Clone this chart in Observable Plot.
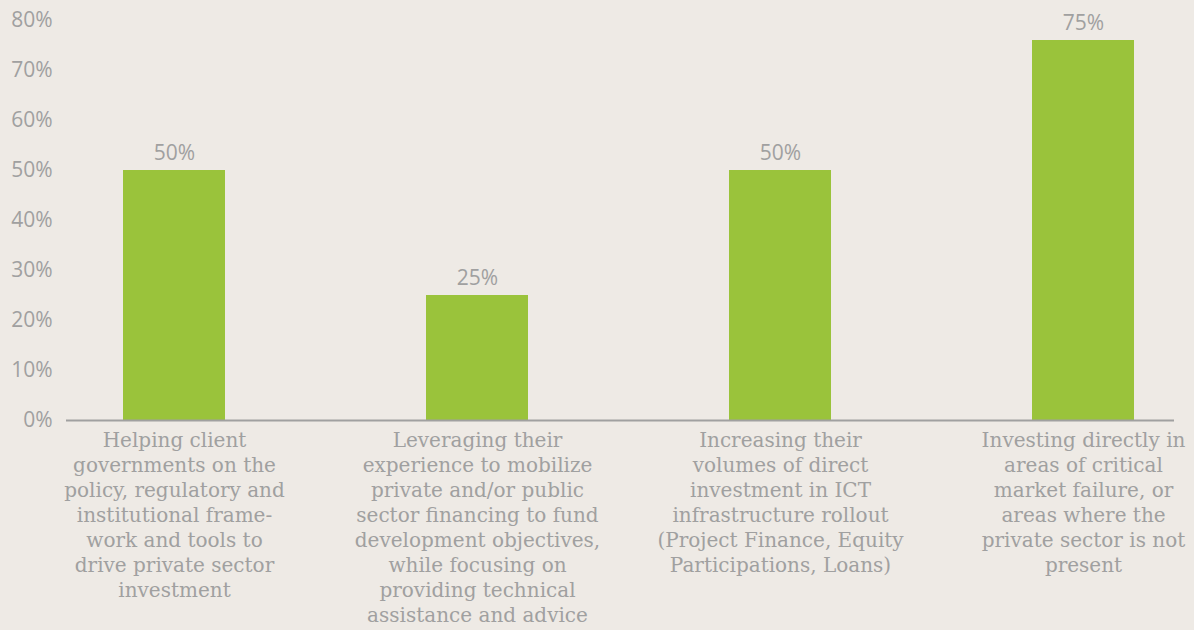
<!DOCTYPE html>
<html>
<head>
<meta charset="utf-8">
<script src="https://cdn.jsdelivr.net/npm/d3@7"></script>
<script src="https://cdn.jsdelivr.net/npm/@observablehq/plot@0.6"></script>
<style>
  html, body { margin: 0; padding: 0; background: #EEEAE5; }
  #chart { width: 1194px; height: 630px; overflow: hidden; }
</style>
</head>
<body>
<div id="chart"></div>
<script>
const categories = [
  "Helping client\ngovernments on the\npolicy, regulatory and\ninstitutional frame-\nwork and tools to\ndrive private sector\ninvestment",
  "Leveraging their\nexperience to mobilize\nprivate and/or public\nsector financing to fund\ndevelopment objectives,\nwhile focusing on\nproviding technical\nassistance and advice",
  "Increasing their\nvolumes of direct\ninvestment in ICT\ninfrastructure rollout\n(Project Finance, Equity\nParticipations, Loans)",
  "Investing directly in\nareas of critical\nmarket failure, or\nareas where the\nprivate sector is not\npresent"
];
const values = [50, 25, 50, 76];
const valueLabels = ["50%", "25%", "50%", "75%"];
const yTicks = [0, 10, 20, 30, 40, 50, 60, 70, 80];

const data = categories.map((c, i) => ({cat: c, value: values[i], label: valueLabels[i]}));

const grey = "#A0A0A0";
const sans = "'Open Sans', 'Noto Sans', sans-serif";
const serif = "'DejaVu Serif', serif";

const chart = Plot.plot({
  width: 1194,
  height: 630,
  marginLeft: 66,
  marginRight: 20,
  marginTop: 20,
  marginBottom: 210,
  style: {background: "#EEEAE5", overflow: "visible"},
  x: {type: "band", domain: categories, paddingInner: 0.664, paddingOuter: 0.159, align: 0.588, axis: null, label: null},
  y: {domain: [0, 80], axis: null, label: null},
  marks: [
    Plot.barY(data, {x: "cat", y: "value", fill: "#9AC33B"}),
    Plot.ruleY([0], {stroke: grey, strokeWidth: 2}),
    Plot.axisY({ticks: yTicks, tickFormat: d => d + "%", tickSize: 0, tickPadding: 14, label: null,
      fontSize: 21, fontFamily: sans, color: grey}),
    Plot.axisX({tickSize: 0, tickPadding: 9, fontSize: 20, fontFamily: serif, color: grey, label: null,
      lineHeight: 1.25, lineAnchor: "top"}),
    Plot.text(data, {x: "cat", y: "value", text: "label", dy: -11, lineAnchor: "bottom",
      fontSize: 21, fontFamily: sans, fill: grey})
  ]
});
document.getElementById("chart").appendChild(chart);
</script>
</body>
</html>
